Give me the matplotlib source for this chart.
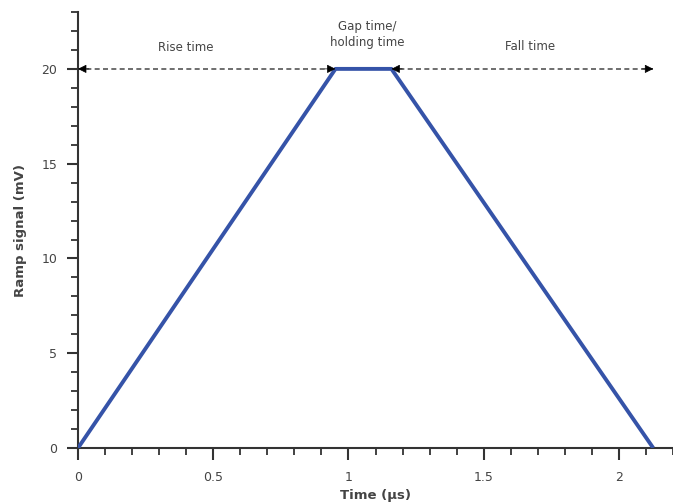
import matplotlib.pyplot as plt
from matplotlib.ticker import MultipleLocator

# ramp signal corners
time_us = [0, 0.952, 1.159, 2.127]
signal_mv = [0, 20, 20, 0]

# annotation spans (start, end) at 20 mV
rise_span = (0, 0.952)
fall_span = (1.159, 2.127)
labels = ["Rise time", "Gap time/\nholding time", "Fall time"]
label_x = [0.40, 1.07, 1.67]
label_y = [21.15, 21.8, 21.2]

fig = plt.figure(figsize=(6.73, 5.03), dpi=100)
ax = fig.add_axes([0.1159, 0.1093, 0.8841, 0.8668])

ax.plot(time_us, signal_mv, color="#3553a8", lw=2.8, solid_capstyle="butt", zorder=3)

for a, b in [rise_span, fall_span]:
    # gray dashed shaft
    ax.plot([a, b], [20, 20], color="#555555", lw=1.2, ls=(0, (3, 2)), zorder=2)
    # black heads at both ends
    for tip, tail in [(a, a + 0.04), (b, b - 0.04)]:
        ax.annotate("", xy=(tip, 20), xytext=(tail, 20),
                    arrowprops=dict(arrowstyle="-|>", color="black", lw=0.5,
                                    mutation_scale=13, shrinkA=0, shrinkB=0),
                    zorder=4)

for t, x, y in zip(labels, label_x, label_y):
    ax.text(x, y, t, ha="center", va="center", fontsize=8.5, color="#444444",
            linespacing=1.3)

ax.set_xlim(0, 2.2)
ax.set_ylim(0, 23)
ax.xaxis.set_minor_locator(MultipleLocator(0.1))
ax.yaxis.set_major_locator(MultipleLocator(5))
ax.yaxis.set_minor_locator(MultipleLocator(1))
ax.set_xticks([0, 0.5, 1, 1.5, 2])
ax.set_xticklabels(["0", "0.5", "1", "1.5", "2"])

for s in ["top", "right"]:
    ax.spines[s].set_visible(False)
for s in ["left", "bottom"]:
    ax.spines[s].set_color("#333333")
    ax.spines[s].set_linewidth(1.5)

ax.tick_params(which="major", length=8.5, width=1.5, color="#333333",
               labelsize=9, labelcolor="#444444", pad=8)
ax.tick_params(which="minor", length=5, width=1.3, color="#333333")
ax.tick_params(axis="y", which="major", length=8, pad=7)

ax.set_xlabel("Time (µs)", fontsize=9.5, fontweight="bold", color="#444444", labelpad=4)
ax.set_ylabel("Ramp signal (mV)", fontsize=9.5, fontweight="bold", color="#444444", labelpad=10)

fig.savefig("out.png", dpi=100)
